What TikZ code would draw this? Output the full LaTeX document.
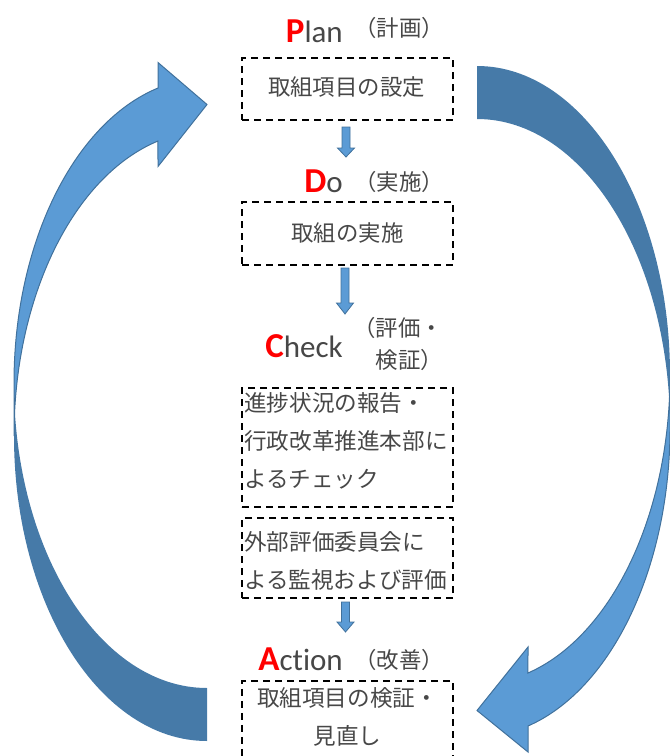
\documentclass[tikz,border=0pt]{standalone}
\usepackage{fontspec}
\setmainfont{Carlito}[Ligatures={NoCommon,NoDiscretionary,NoContextual}]
\newfontfamily\jpf{Noto Sans CJK JP}
\usetikzlibrary{calc}
\definecolor{lightblue}{HTML}{5B9BD5}
\definecolor{darkblue}{HTML}{467AA8}
\definecolor{edgeblue}{HTML}{41719C}
\definecolor{txtgray}{HTML}{474747}
\definecolor{capred}{HTML}{FF0000}
\newcommand\lnstrut{\rule{0pt}{0.88em}}
\newcommand\capl[1]{\textcolor{capred}{\fontsize{35}{40}\selectfont\bfseries #1}}
\newcommand\blkarrow[3]{%
  \path[smallarrow] ($(#1)+(-4,0)$) -- ($(#1)+(4,0)$) -- ($(#2)+(4,#3)$) -- ($(#2)+(8.5,#3)$) -- (#2) -- ($(#2)+(-8.5,#3)$) -- ($(#2)+(-4,#3)$) -- cycle;}
\begin{document}
\begin{tikzpicture}[x=1pt,y=1pt,
  dbox/.style={draw=black, line width=1.8pt, dash pattern=on 7pt off 5pt, minimum width=211pt, inner sep=0pt},
  boxtxt/.style={font=\jpf\fontsize{22.6}{38}\selectfont, text=txtgray, inner sep=0pt},
  jpml/.style={font=\jpf\fontsize{22.4}{32}\selectfont, text=txtgray, inner sep=0pt},
  jptxt/.style={font=\jpf\fontsize{22.4}{32}\selectfont, text=txtgray, inner sep=0pt, text height=19.7pt, text depth=2.7pt},
  heading/.style={font=\fontsize{31}{36}\selectfont, text=txtgray, inner sep=0pt, anchor=base east},
  smallarrow/.style={fill=lightblue, draw=edgeblue, line width=0.8pt, line join=miter},
  lightpart/.style={fill=lightblue, draw=edgeblue, line width=1pt, line join=miter},
  darkpart/.style={fill=darkblue}
]
\path[use as bounding box] (0,0) rectangle (670,-756);
\clip (0,0) rectangle (670,-756);

% left curved arrow
\path[darkpart] (207,-688) arc[start angle=270, end angle=180, x radius=193, y radius=305]
  -- (14,-436) arc[start angle=180, end angle=270, x radius=193, y radius=305] -- cycle;
\path[lightpart] (14,-436) arc[start angle=180, end angle=104.71, x radius=193, y radius=305]
  -- (158,-166.5) -- (207,-104.5) -- (158,-62.5) -- (158,-88)
  arc[start angle=104.71, end angle=180, x radius=193, y radius=305] -- cycle;

% right curved arrow
\path[darkpart] (477,-66) arc[start angle=90, end angle=0, x radius=193, y radius=309]
  -- (670,-428) arc[start angle=0, end angle=90, x radius=193, y radius=309] -- cycle;
\path[lightpart] (670,-375) arc[start angle=0, end angle=-74.68, x radius=193, y radius=309]
  -- (528,-647) -- (477,-710.5) -- (528,-752) -- (528,-726)
  arc[start angle=-74.68, end angle=0, x radius=193, y radius=309] -- cycle;

% boxes
\node[dbox, minimum height=62pt] (planbox) at (347.5,-89) {};
\node[dbox, minimum height=63pt] (dobox) at (347.5,-233.5) {};
\node[dbox, minimum height=119pt] (chkbox1) at (347.5,-447.5) {};
\node[dbox, minimum height=80pt] (chkbox2) at (347.5,-558) {};
\node[dbox, minimum height=110pt, anchor=north] (actbox) at (347.5,-680) {};

% box texts
\node[jptxt] (plantxt) at (346.5,-87) {取組項目の設定};
\node[jptxt] (dotxt) at (347.5,-232.5) {取組の実施};
\node[boxtxt, anchor=north west, align=left] (chktxt1) at (244,-391.7) {\lnstrut 進捗状況の報告・\\行政改革推進本部に\\よるチェック};
\node[boxtxt, anchor=north west, align=left] (chktxt2) at (244,-530.7) {\lnstrut 外部評価委員会に\\よる監視および評価};
\node[boxtxt, anchor=north, align=center] (acttxt) at (347.5,-686.7) {\lnstrut 取組項目の検証・\\見直し};

% headings
\node[heading] (planhd) at (343,-42) {\capl{P}lan};
\node[jptxt, anchor=west] (planjp) at (354,-28) {（計画）};
\node[heading] (dohd) at (343,-192) {\capl{D}o};
\node[jptxt, anchor=west] (dojp) at (354,-182) {（実施）};
\node[heading] (chkhd) at (343,-357) {\capl{C}heck};
\node[jpml, anchor=north east, align=right] (chkjp) at (443,-316.8) {\lnstrut（評価・\\検証）};
\node[heading] (acthd) at (343,-670) {\capl{A}c\kern0ptt\kern0ption};
\node[jptxt, anchor=west] (actjp) at (354,-660) {（改善）};

% small arrows
\coordinate (a1s) at (346,-127);
\coordinate (a1e) at (346,-157);
\coordinate (a2s) at (345,-268);
\coordinate (a2e) at (345,-314);
\coordinate (a3s) at (345.5,-602);
\coordinate (a3e) at (345.5,-632);
\blkarrow{a1s}{a1e}{9}
\blkarrow{a2s}{a2e}{11}
\blkarrow{a3s}{a3e}{10}
\end{tikzpicture}
\end{document}
